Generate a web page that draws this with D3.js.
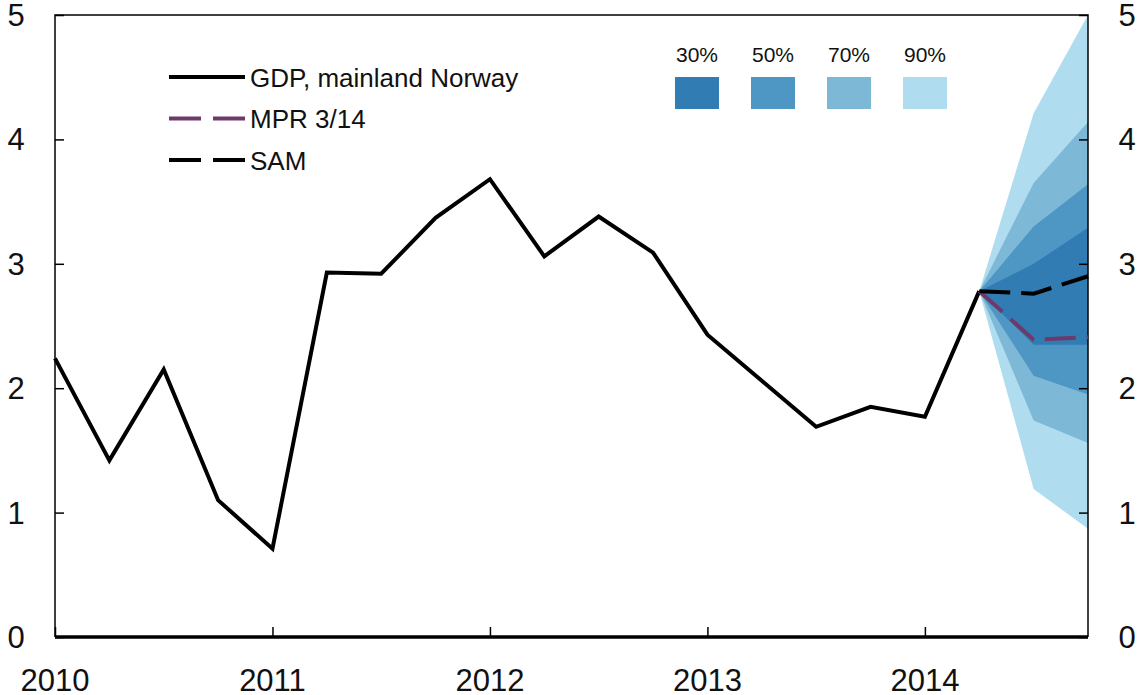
<!DOCTYPE html>
<html>
<head>
<meta charset="utf-8">
<script src="https://cdn.jsdelivr.net/npm/d3@7"></script>
<style>
  body { margin: 0; background: #fff; }
  svg text { font-family: "Liberation Sans", Arial, Helvetica, sans-serif; fill: #111; }
</style>
</head>
<body>
<figure id="chart" style="margin:0"></figure>
<script>
// quarterly GDP, mainland Norway (4-quarter growth, %)
const quarters = ["2010Q1","2010Q2","2010Q3","2010Q4","2011Q1","2011Q2","2011Q3","2011Q4",
  "2012Q1","2012Q2","2012Q3","2012Q4","2013Q1","2013Q2","2013Q3","2013Q4","2014Q1","2014Q2"];
const gdp = [2.24, 1.42, 2.15, 1.10, 0.71, 2.93, 2.92, 3.37, 3.68, 3.06, 3.38, 3.09,
  2.43, 2.06, 1.69, 1.85, 1.77, 2.78];

// forecast period
const fcQuarters = ["2014Q2","2014Q3","2014Q4"];
const mpr = [2.78, 2.39, 2.41];
const sam = [2.78, 2.76, 2.90];

// fan bands, [lower, upper] per forecast quarter
const bandNames = ["90%", "70%", "50%", "30%"];
const bandLower = {
  "90%": [2.78, 1.19, 0.87],
  "70%": [2.78, 1.74, 1.56],
  "50%": [2.78, 2.10, 1.95],
  "30%": [2.78, 2.35, 2.35]
};
const bandUpper = {
  "90%": [2.78, 4.21, 5.00],
  "70%": [2.78, 3.65, 4.14],
  "50%": [2.78, 3.30, 3.64],
  "30%": [2.78, 3.00, 3.29]
};
const bandColors = {"30%": "#317db3", "50%": "#4e96c3", "70%": "#7db9d6", "90%": "#b0dcf0"};

const yearTicks = [2010, 2011, 2012, 2013, 2014];
const yTicks = [0, 1, 2, 3, 4, 5];

const W = 1138, H = 695;
const mLeft = 55, mRight = 1088, mTop = 15, mBottom = 637;

const toYear = q => +q.slice(0, 4) + (+q.slice(5) - 1) / 4;

const svg = d3.select("#chart").append("svg")
  .attr("width", W).attr("height", H);

const x = d3.scaleLinear().domain([2010, 2014.75]).range([mLeft, mRight]);
const y = d3.scaleLinear().domain([0, 5]).range([mBottom, mTop]);

// fan chart, widest first
bandNames.forEach(b => {
  const pts = fcQuarters.map((q, i) => ({t: toYear(q), lo: bandLower[b][i], hi: bandUpper[b][i]}));
  svg.append("path")
    .datum(pts)
    .attr("fill", bandColors[b])
    .attr("d", d3.area().x(d => x(d.t)).y0(d => y(d.lo)).y1(d => y(d.hi)));
});

// frame
svg.append("path")
  .attr("d", `M${mLeft},${mBottom}V${mTop}H${mRight}V${mBottom}`)
  .attr("fill", "none").attr("stroke", "#000").attr("stroke-width", 1.5);

// left / right axes (ticks point inward)
svg.append("g")
  .attr("transform", `translate(${mLeft},0)`)
  .call(d3.axisRight(y).tickValues(yTicks).tickSize(9).tickFormat(""))
  .call(g => g.select(".domain").remove())
  .call(g => g.selectAll("line").attr("stroke-width", 1.5));
svg.append("g")
  .attr("transform", `translate(${mRight},0)`)
  .call(d3.axisLeft(y).tickValues(yTicks).tickSize(9).tickFormat(""))
  .call(g => g.select(".domain").remove())
  .call(g => g.selectAll("line").attr("stroke-width", 1.5));

svg.selectAll(".ylabL").data(yTicks).enter().append("text")
  .attr("x", 16).attr("y", d => y(d) + 11)
  .attr("text-anchor", "middle").style("font-size", "31px")
  .text(d => d);
svg.selectAll(".ylabR").data(yTicks).enter().append("text")
  .attr("x", 1127).attr("y", d => y(d) + 11)
  .attr("text-anchor", "middle").style("font-size", "31px")
  .text(d => d);

// bottom axis
svg.append("g")
  .attr("transform", `translate(0,${mBottom})`)
  .call(d3.axisTop(x).tickValues(yearTicks).tickSize(10).tickFormat(""))
  .call(g => g.select(".domain").remove())
  .call(g => g.selectAll("line").attr("stroke-width", 1.5));
svg.append("line")
  .attr("x1", mLeft).attr("x2", mRight).attr("y1", mBottom).attr("y2", mBottom)
  .attr("stroke", "#000").attr("stroke-width", 3.5);
svg.selectAll(".xlab").data(yearTicks).enter().append("text")
  .attr("x", d => x(d)).attr("y", 691)
  .attr("text-anchor", "middle").style("font-size", "31px")
  .text(d => d);

// lines
const line = d3.line().x(d => x(d.t)).y(d => y(d.v));
svg.append("path")
  .datum(quarters.map((q, i) => ({t: toYear(q), v: gdp[i]})))
  .attr("fill", "none").attr("stroke", "#000").attr("stroke-width", 4)
  .attr("stroke-linejoin", "miter")
  .attr("d", line);
svg.append("path")
  .datum(fcQuarters.map((q, i) => ({t: toYear(q), v: mpr[i]})))
  .attr("fill", "none").attr("stroke", "#6d3a6b").attr("stroke-width", 4)
  .attr("stroke-dasharray", "31,11")
  .attr("d", line);
svg.append("path")
  .datum(fcQuarters.map((q, i) => ({t: toYear(q), v: sam[i]})))
  .attr("fill", "none").attr("stroke", "#000").attr("stroke-width", 4)
  .attr("stroke-dasharray", "31,11")
  .attr("d", line);

// legend for lines
const legendItems = [
  {name: "GDP, mainland Norway", color: "#000", dash: null},
  {name: "MPR 3/14", color: "#6d3a6b", dash: "32,12"},
  {name: "SAM", color: "#000", dash: "32,12"}
];
const lg = svg.selectAll(".leg").data(legendItems).enter().append("g")
  .attr("transform", (d, i) => `translate(169,${77 + i * 41.5})`);
lg.append("line")
  .attr("x1", 0).attr("x2", 76)
  .attr("stroke", d => d.color).attr("stroke-width", 4)
  .attr("stroke-dasharray", d => d.dash);
lg.append("text")
  .attr("x", 81).attr("y", 9.5)
  .style("font-size", "26px")
  .text(d => d.name);

// legend for bands
const bandOrder = ["30%", "50%", "70%", "90%"];
const bl = svg.selectAll(".bleg").data(bandOrder).enter().append("g")
  .attr("transform", (d, i) => `translate(${675 + i * 76},0)`);
bl.append("rect")
  .attr("x", 0).attr("y", 77).attr("width", 44).attr("height", 32)
  .attr("fill", d => bandColors[d]);
bl.append("text")
  .attr("x", 22).attr("y", 62).attr("text-anchor", "middle")
  .style("font-size", "21px")
  .text(d => d);
</script>
</body>
</html>
